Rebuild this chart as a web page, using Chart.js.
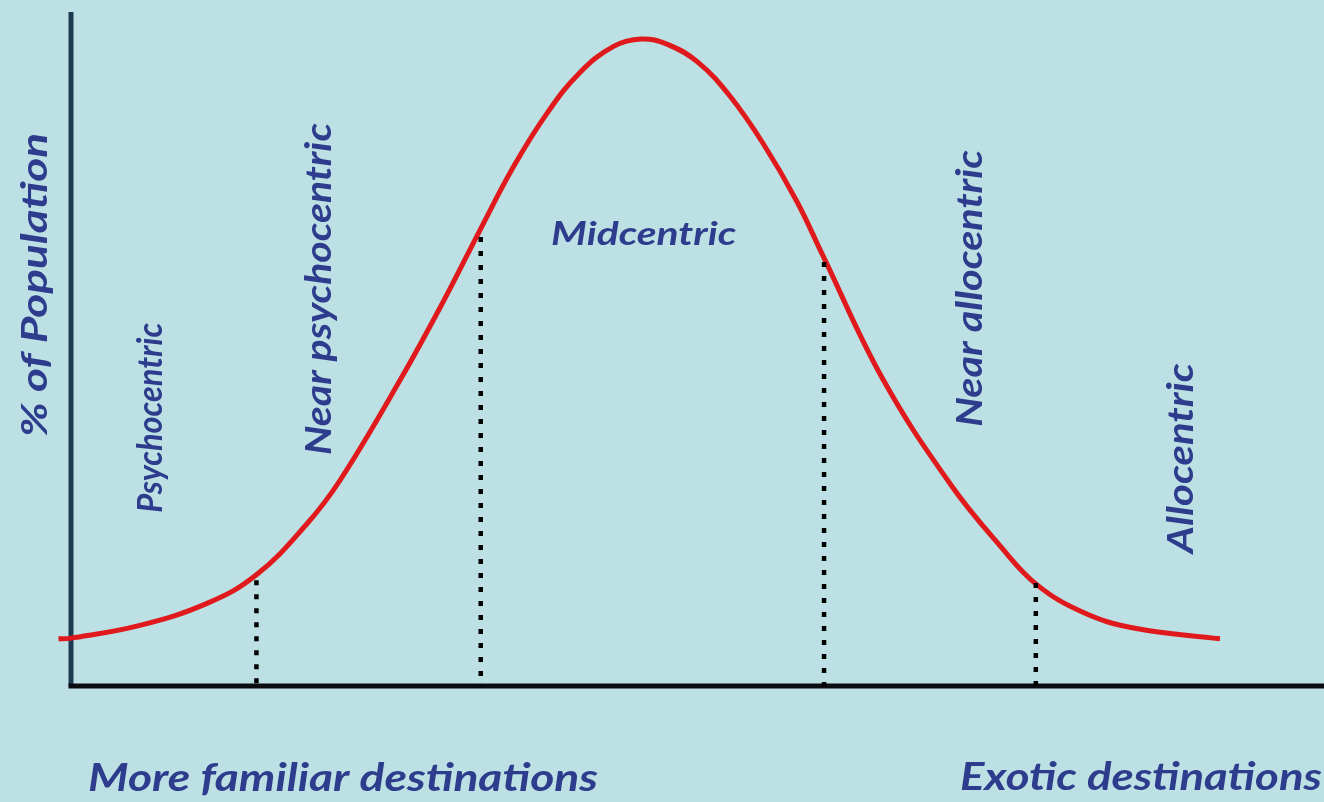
<!DOCTYPE html>
<html>
<head>
<meta charset="utf-8">
<script src="https://cdn.jsdelivr.net/npm/chart.js@4.4.1/dist/chart.umd.min.js"></script>
<style>
  html, body { margin: 0; padding: 0; background: #bce0e3; }
  canvas { display: block; }
</style>
</head>
<body>
<canvas id="chart" width="1324" height="802"></canvas>
<script>
  // distribution curve (x: position along the axis, y: % of population)
  var curveX = [-1.0, 0, 5.5, 10.9, 14.8, 18.8, 21.5, 26.3, 29.7, 32.6, 35.3, 38.0, 40.6, 43.3, 45.5,
                47.6, 50.0, 52.6, 55.2, 57.9, 60.0, 64.8, 70.2, 74.1, 77.1, 80.8, 84.8, 91.7];
  var curveY = [7.0, 7.1, 9.0, 12.3, 16.5, 24.0, 30.6, 45.5, 57.0, 67.5, 77.0, 85.0, 91.0, 94.9, 96.0,
                95.2, 92.6, 87.5, 80.6, 72.0, 63.9, 45.5, 29.9, 20.9, 15.0, 10.9, 8.6, 7.0];

  // dotted dividers between the groups
  var dividerX = [14.8, 32.7, 60.1, 77.0];
  var dividerTop = [15.7, 66.6, 62.9, 15.3];

  var zoneNames = ['Psychocentric', 'Near psychocentric', 'Midcentric', 'Near allocentric', 'Allocentric'];
  var yTitle = '% of Population';
  var xLeftTitle = 'More familiar destinations';
  var xRightTitle = 'Exotic destinations';

  // where the zone names sit (data units) and how they are drawn
  var zoneLayout = [
    { x: 6.3,  y: 39.8, rot: true,  size: 34, len: 190 },
    { x: 19.7, y: 58.9, rot: true,  size: 36, len: 332 },
    { x: 45.7, y: 67.1, rot: false, size: 32, len: 185 },
    { x: 71.7, y: 59.0, rot: true,  size: 36, len: 277 },
    { x: 88.5, y: 33.8, rot: true,  size: 36, len: 190 }
  ];

  var textColor = '#2d3c8c';
  var bg = '#bce0e3';

  function drawLabel(ctx, text, cx, cy, rotated, size, len) {
    ctx.save();
    ctx.translate(cx, cy);
    if (rotated) ctx.rotate(-Math.PI / 2);
    ctx.font = 'italic bold ' + size + 'px Lato';
    var w = ctx.measureText(text).width;
    ctx.scale(len ? len / w : 1, 1);
    ctx.textAlign = 'center';
    ctx.textBaseline = 'alphabetic';
    ctx.fillStyle = textColor;
    ctx.fillText(text, 0, size * 0.72 / 2);
    ctx.restore();
  }

  var sketch = {
    id: 'sketch',
    beforeDraw: function(chart) {
      var ctx = chart.ctx;
      ctx.save();
      ctx.fillStyle = bg;
      ctx.fillRect(0, 0, chart.width, chart.height);
      ctx.restore();
    },
    beforeDatasetsDraw: function(chart) {
      var ctx = chart.ctx, x = chart.scales.x, y = chart.scales.y;
      var x0 = x.getPixelForValue(0), y0 = y.getPixelForValue(0);
      ctx.save();
      ctx.lineWidth = 5;
      ctx.strokeStyle = '#1d3a52';
      ctx.beginPath();
      ctx.moveTo(x0, y.getPixelForValue(100));
      ctx.lineTo(x0, y0);
      ctx.stroke();
      ctx.strokeStyle = '#0a0c12';
      ctx.beginPath();
      ctx.moveTo(x0 - 2.5, y0);
      ctx.lineTo(chart.width, y0);
      ctx.stroke();
      ctx.restore();
    },
    afterDraw: function(chart) {
      var ctx = chart.ctx, x = chart.scales.x, y = chart.scales.y;
      for (var i = 0; i < zoneNames.length; i++) {
        var l = zoneLayout[i];
        drawLabel(ctx, zoneNames[i], x.getPixelForValue(l.x), y.getPixelForValue(l.y), l.rot, l.size, l.len);
      }
      var area = chart.chartArea;
      drawLabel(ctx, yTitle, area.left - 37, y.getPixelForValue(59.5), true, 37, 304);
      drawLabel(ctx, xLeftTitle, 343, area.bottom + 91, false, 39, 510);
      drawLabel(ctx, xRightTitle, 1141, area.bottom + 90, false, 39, 362);
    }
  };

  var datasets = dividerX.map(function(dx, i) {
    return {
      data: [{ x: dx, y: dividerTop[i] }, { x: dx, y: 0 }],
      showLine: true,
      borderColor: '#000',
      borderWidth: 4.5,
      borderDash: [5, 9],
      borderCapStyle: 'butt',
      pointRadius: 0
    };
  });

  datasets.push({
    data: curveX.map(function(v, i) { return { x: v, y: curveY[i] }; }),
    showLine: true,
    borderColor: '#e01a1c',
    borderWidth: 5,
    tension: 0.4,
    pointRadius: 0,
    clip: false
  });

  new Chart(document.getElementById('chart').getContext('2d'), {
    type: 'scatter',
    data: { datasets: datasets },
    options: {
      responsive: false,
      animation: false,
      devicePixelRatio: 1,
      layout: { padding: { left: 71, right: 0, top: 12, bottom: 116 } },
      plugins: { legend: { display: false }, tooltip: { enabled: false } },
      scales: {
        x: { type: 'linear', min: 0, max: 100, display: false },
        y: { type: 'linear', min: 0, max: 100, display: false }
      }
    },
    plugins: [sketch]
  });
</script>
</body>
</html>
